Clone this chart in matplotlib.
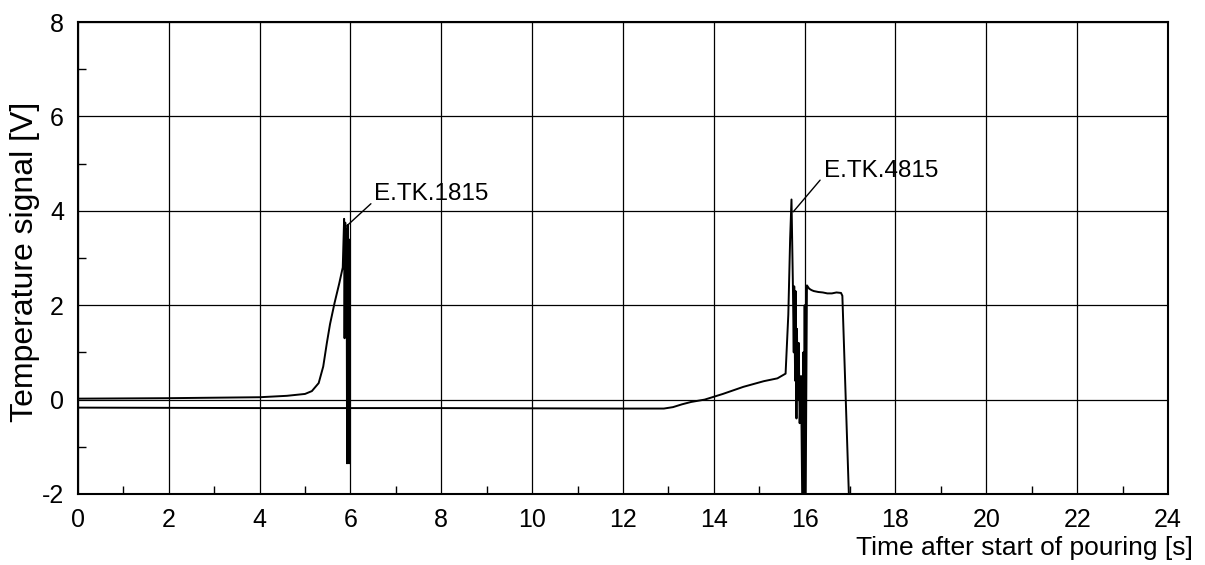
import numpy as np
import matplotlib.pyplot as plt
from matplotlib.ticker import MultipleLocator

# E.TK.1815 thermocouple
t_1815 = [0.0, 2.0, 4.0, 4.6, 5.0, 5.15, 5.3, 5.4, 5.48, 5.55, 5.65, 5.75, 5.83,
          5.86, 5.87, 5.885, 5.90, 5.915, 5.925, 5.94, 5.95, 5.96, 5.97, 5.98]
v_1815 = [0.02, 0.03, 0.05, 0.08, 0.12, 0.18, 0.35, 0.7, 1.2, 1.6, 2.05, 2.45, 2.8,
          3.83, 1.3, 3.75, 1.6, 3.6, -1.35, 3.7, 0.8, 3.4, -1.35, 2.0]

# E.TK.4815 thermocouple
t_4815 = [0.0, 4.0, 8.0, 12.0, 12.9, 13.1, 13.3, 13.5, 13.8, 14.2, 14.65, 15.1, 15.4,
          15.58, 15.64, 15.68, 15.71, 15.74, 15.76, 15.77, 15.79, 15.80, 15.82, 15.83,
          15.85, 15.87, 15.89, 15.92, 15.95, 15.97, 15.98, 16.0, 16.02, 16.05, 16.1,
          16.15, 16.2, 16.3, 16.4, 16.5, 16.6, 16.7, 16.8, 16.83, 16.99]
v_4815 = [-0.17, -0.18, -0.18, -0.19, -0.19, -0.16, -0.1, -0.05, 0.0, 0.12, 0.27, 0.39, 0.45,
          0.55, 1.8, 3.4, 4.24, 2.5, 1.0, 2.4, 0.4, 2.3, -0.4, 1.5,
          0.0, 1.2, -0.5, 0.5, -2.5, 1.0, -2.5, 2.0, -2.5, 2.42, 2.35,
          2.32, 2.3, 2.28, 2.27, 2.25, 2.25, 2.27, 2.26, 2.2, -2.5]

x_ticks = np.arange(0, 25, 2)
y_ticks = np.arange(-2, 9, 2)

plt.rcParams['font.family'] = ['Liberation Sans', 'DejaVu Sans']
plt.rcParams['axes.unicode_minus'] = False

fig = plt.figure(figsize=(12.05, 5.65), dpi=100)
ax = fig.add_axes([0.0647, 0.1257, 0.9046, 0.8353])

ax.plot(t_1815, v_1815, color='black', lw=1.4)
ax.plot(t_4815, v_4815, color='black', lw=1.4)

ax.set_xlim(0, 24)
ax.set_ylim(-2, 8)
ax.set_xticks(x_ticks)
ax.set_yticks(y_ticks)
ax.xaxis.set_minor_locator(MultipleLocator(1))
ax.yaxis.set_minor_locator(MultipleLocator(1))
ax.grid(True, which='major', color='black', lw=0.9)
ax.tick_params(which='both', direction='in', labelsize=18)
ax.tick_params(which='major', length=0)
ax.tick_params(which='minor', length=6, width=1)
ax.tick_params(axis='x', pad=10)
ax.tick_params(axis='y', pad=10)
for s in ax.spines.values():
    s.set_linewidth(1.5)

# axis titles placed like the scanned original
fig.text(0.021, 0.536, 'Temperature signal [V]', fontsize=23, rotation=90,
         ha='center', va='center')
fig.text(0.990, 0.0177, 'Time after start of pouring [s]', fontsize=19,
         ha='right', va='baseline')

# labels with leader lines
ax.text(6.51, 4.22, 'E.TK.1815', fontsize=17.5, ha='left', va='baseline')
ax.annotate('', xy=(5.93, 3.69), xytext=(6.45, 4.15),
            arrowprops=dict(arrowstyle='-', color='black', lw=1, shrinkA=0, shrinkB=0))
ax.text(16.42, 4.72, 'E.TK.4815', fontsize=17.5, ha='left', va='baseline')
ax.annotate('', xy=(15.75, 3.98), xytext=(16.34, 4.65),
            arrowprops=dict(arrowstyle='-', color='black', lw=1, shrinkA=0, shrinkB=0))

plt.savefig('out.png', dpi=100)
